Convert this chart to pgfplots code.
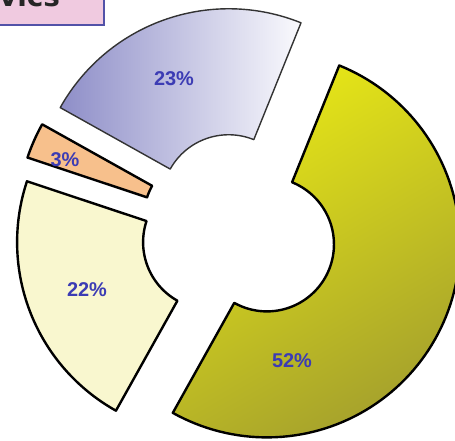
\documentclass[border=0pt]{standalone}
\usepackage{pgfplots}
\usepackage{pgfplotstable}
\pgfplotsset{compat=1.18}
\usepackage{fontspec}
\setmainfont{Liberation Sans}
\newfontfamily\titlefont{DejaVu Sans}

\definecolor{lbl}{HTML}{3C3CB4}
\definecolor{olivetop}{HTML}{E8E816}
\definecolor{olivebot}{HTML}{A6A22C}
\definecolor{cream}{HTML}{F9F7CF}
\definecolor{peach}{HTML}{F7C08C}
\definecolor{lavL}{HTML}{8E8EC8}
\definecolor{lavR}{HTML}{FAFAFD}
\definecolor{boxpink}{HTML}{F0CAE0}
\definecolor{boxline}{HTML}{5252A8}

% shares in percent, clockwise from the first slice
\pgfplotstableread{
share
52
22
3
23
}\shares

% geometry in pixels of the picture
\def\cx{239}\def\cy{231}   % centre of the ring
\def\Ro{193}\def\Ri{67}    % outer and inner radius
\def\ex{31}                % explosion distance
\def\first{22}             % angle of first slice (deg clockwise from 12 o'clock)

\pgfplotstablegetelem{0}{share}\of\shares \let\sA\pgfplotsretval
\pgfplotstablegetelem{1}{share}\of\shares \let\sB\pgfplotsretval
\pgfplotstablegetelem{2}{share}\of\shares \let\sC\pgfplotsretval
\pgfplotstablegetelem{3}{share}\of\shares \let\sD\pgfplotsretval
\pgfmathsetmacro\aA{\first}
\pgfmathsetmacro\aB{\aA+3.6*\sA}
\pgfmathsetmacro\aC{\aB+3.6*\sB}
\pgfmathsetmacro\aD{\aC+3.6*\sC}
\pgfmathsetmacro\aE{\aD+3.6*\sD}

% one ring slice: start angle, end angle, style
\newcommand\slice[3]{%
  \addplot[#3, domain=0:2, samples=201, variable=\t]
    ({\cx + \ex*sin((#1+#2)/2) + (\t<1.005 ? \Ro : \Ri)*sin(\t<1.005 ? #1+(#2-#1)*min(\t,1) : #2-(#2-#1)*max(\t-1.01,0)/0.99)},
     {\cy - \ex*cos((#1+#2)/2) - (\t<1.005 ? \Ro : \Ri)*cos(\t<1.005 ? #1+(#2-#1)*min(\t,1) : #2-(#2-#1)*max(\t-1.01,0)/0.99)}) -- cycle;
}

\begin{document}
\begin{tikzpicture}
\begin{axis}[
    scale only axis,
    width=455bp, height=441bp,
    xmin=0, xmax=455, ymin=0, ymax=441,
    y dir=reverse,
    hide axis,
  ]
  \draw[boxline, line width=1.5bp, fill=boxpink] (axis cs:-10,-20) rectangle (axis cs:104,25);
  \node[anchor=base west, inner sep=0pt, font=\titlefont\fontsize{28}{28}\selectfont\bfseries, text=black!85]
    at (axis cs:-1,7) {vics};

  \slice{\aA}{\aB}{draw=black, line width=2.4bp, line join=round, top color=olivetop, bottom color=olivebot, shading angle=30}
  \slice{\aB}{\aC}{draw=black, line width=2.4bp, line join=round, fill=cream}
  \slice{\aC}{\aD}{draw=black, line width=2.4bp, line join=round, fill=peach}
  \slice{\aD}{\aE}{draw=black!80, line width=1.4bp, line join=round, left color=lavL, right color=lavR}

  \tikzset{pct/.style={font=\fontsize{20}{20}\selectfont\bfseries, text=lbl, inner sep=0pt}}
  \node[pct] at (axis cs:292,361) {52\%};
  \node[pct] at (axis cs:87,290) {22\%};
  \node[pct] at (axis cs:65,160) {3\%};
  \node[pct] at (axis cs:174,79) {23\%};
\end{axis}
\pgfresetboundingbox
\useasboundingbox (current axis.south west) rectangle (current axis.north east);
\end{tikzpicture}
\end{document}
